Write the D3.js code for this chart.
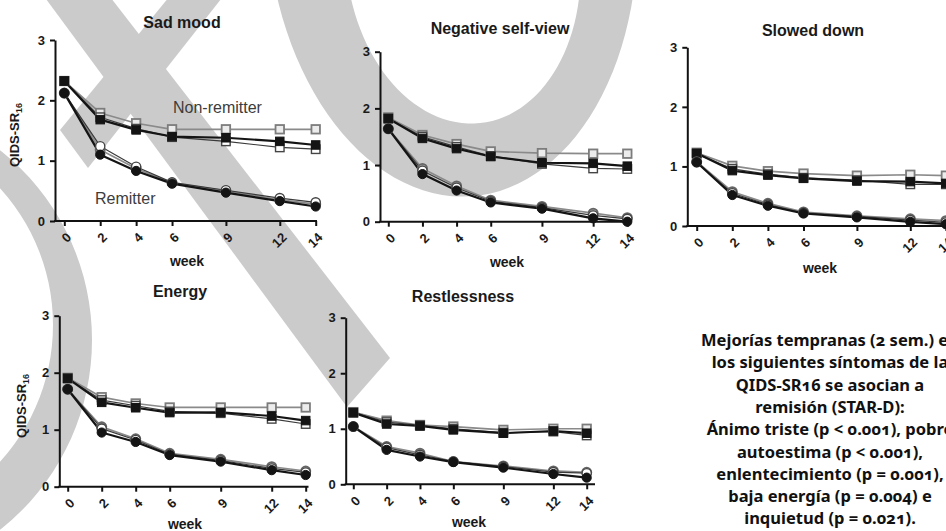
<!DOCTYPE html>
<html>
<head>
<meta charset="utf-8">
<script src="https://cdn.jsdelivr.net/npm/d3@7"></script>
<style>
  html, body { margin: 0; padding: 0; background: #ffffff; }
  svg { display: block; }
</style>
</head>
<body>
<svg id="chart" width="946" height="531"></svg>
<script>
// ---- Data -------------------------------------------------------------
const weeks = [0, 2, 4, 6, 9, 12, 14];
const yTickValues = [0, 1, 2, 3];
const panelTitles = ["Sad mood", "Negative self-view", "Slowed down", "Energy", "Restlessness"];

// Sad mood
const sadNonRemFilled = [2.32, 1.68, 1.51, 1.40, 1.38, 1.32, 1.26];
const sadNonRemGrey   = [2.32, 1.79, 1.62, 1.52, 1.52, 1.52, 1.52];
const sadNonRemOpen   = [2.32, 1.72, 1.53, 1.39, 1.32, 1.22, 1.19];
const sadRemFilled    = [2.12, 1.10, 0.83, 0.62, 0.47, 0.33, 0.24];
const sadRemGrey      = [2.12, 1.18, 0.87, 0.63, 0.50, 0.35, 0.28];
const sadRemOpen      = [2.12, 1.24, 0.90, 0.64, 0.51, 0.38, 0.31];

// Negative self-view
const negNonRemFilled = [1.82, 1.47, 1.29, 1.15, 1.04, 1.03, 0.98];
const negNonRemGrey   = [1.84, 1.53, 1.37, 1.24, 1.21, 1.20, 1.20];
const negNonRemOpen   = [1.82, 1.50, 1.32, 1.16, 1.02, 0.94, 0.93];
const negRemFilled    = [1.64, 0.84, 0.55, 0.34, 0.23, 0.06, 0.00];
const negRemGrey      = [1.64, 0.94, 0.63, 0.38, 0.27, 0.15, 0.07];
const negRemOpen      = [1.64, 0.90, 0.60, 0.36, 0.25, 0.11, 0.05];

// Slowed down
const slowNonRemFilled = [1.22, 0.93, 0.855, 0.80, 0.755, 0.745, 0.715];
const slowNonRemGrey   = [1.23, 1.01, 0.92, 0.88, 0.845, 0.86, 0.845];
const slowNonRemOpen   = [1.21, 0.96, 0.87, 0.81, 0.77, 0.70, 0.70];
const slowRemFilled    = [1.07, 0.52, 0.34, 0.21, 0.145, 0.07, 0.03];
const slowRemGrey      = [1.08, 0.575, 0.38, 0.235, 0.17, 0.12, 0.09];
const slowRemOpen      = [1.07, 0.55, 0.36, 0.22, 0.16, 0.10, 0.06];

// Energy
const energyNonRemFilled = [1.90, 1.48, 1.385, 1.30, 1.305, 1.24, 1.16];
const energyNonRemGrey   = [1.91, 1.57, 1.46, 1.39, 1.39, 1.39, 1.39];
const energyNonRemOpen   = [1.90, 1.52, 1.42, 1.32, 1.29, 1.19, 1.10];
const energyRemFilled    = [1.71, 0.95, 0.785, 0.555, 0.44, 0.29, 0.205];
const energyRemGrey      = [1.71, 1.05, 0.84, 0.585, 0.48, 0.35, 0.275];
const energyRemOpen      = [1.71, 1.02, 0.82, 0.57, 0.46, 0.32, 0.25];

// Restlessness
const restNonRemFilled = [1.29, 1.086, 1.05, 0.98, 0.92, 0.96, 0.92];
const restNonRemGrey   = [1.30, 1.146, 1.068, 1.04, 0.98, 1.00, 1.00];
const restNonRemOpen   = [1.29, 1.12, 1.06, 1.00, 0.93, 0.95, 0.88];
const restRemFilled    = [1.04, 0.62, 0.50, 0.40, 0.30, 0.185, 0.12];
const restRemGrey      = [1.04, 0.68, 0.56, 0.41, 0.33, 0.24, 0.215];
const restRemOpen      = [1.04, 0.66, 0.53, 0.41, 0.32, 0.22, 0.20];

const noteLines = [
  "Mejorías tempranas (2 sem.) en",
  "los siguientes síntomas de la",
  "QIDS-SR16 se asocian a",
  "remisión (STAR-D):",
  "Ánimo triste (p < 0.001), pobre",
  "autoestima (p < 0.001),",
  "enlentecimiento (p = 0.001),",
  "baja energía (p = 0.004) e",
  "inquietud (p = 0.021)."
];

// ---- Layout -----------------------------------------------------------
const panelSeries = [
  [sadNonRemGrey, sadNonRemOpen, sadNonRemFilled, sadRemGrey, sadRemOpen, sadRemFilled],
  [negNonRemGrey, negNonRemOpen, negNonRemFilled, negRemGrey, negRemOpen, negRemFilled],
  [slowNonRemGrey, slowNonRemOpen, slowNonRemFilled, slowRemGrey, slowRemOpen, slowRemFilled],
  [energyNonRemGrey, energyNonRemOpen, energyNonRemFilled, energyRemGrey, energyRemOpen, energyRemFilled],
  [restNonRemGrey, restNonRemOpen, restNonRemFilled, restRemGrey, restRemOpen, restRemFilled]
];
const seriesKinds = ["grey", "open", "filled", "grey", "open", "filled"];
const seriesShapes = ["square", "square", "square", "circle", "circle", "circle"];

const panelBoxes = [
  { axX: 55,    x0: 64.3,  x14: 315.7, xEnd: 317,   y0: 221,   y3: 40,    tx: 182, ty: 28,    wx: 187, wy: 266,   lx: 14,   ly: 135 },
  { axX: 380,   x0: 388.3, x14: 627.3, xEnd: 631,   y0: 221.7, y3: 51.7,  tx: 500, ty: 34,    wx: 507, wy: 266.5 },
  { axX: 687.3, x0: 696.7, x14: 945.9, xEnd: 952,   y0: 226,   y3: 47.3,  tx: 813, ty: 36,    wx: 820, wy: 273 },
  { axX: 59.3,  x0: 67.7,  x14: 305.7, xEnd: 308.5, y0: 486.7, y3: 315.7, tx: 180, ty: 296.7, wx: 185, wy: 528.5, lx: 21.7, ly: 406 },
  { axX: 345.7, x0: 353.3, x14: 586.7, xEnd: 595,   y0: 484.3, y3: 317.7, tx: 463, ty: 301.7, wx: 469, wy: 527 }
];

const styles = {
  grey:   { line: "#8a8a8a", lw: 1.7, fill: "#ececec", stroke: "#7c7c7c", sw: 1.8 },
  open:   { line: "#3a3a3a", lw: 1.2, fill: "#ffffff", stroke: "#454545", sw: 1.4 },
  filled: { line: "#141414", lw: 2.2, fill: "#141414", stroke: "#141414", sw: 1 }
};
const circleGrey = { fill: "#9c9c9c", stroke: "#666666" };

const FONT = "'Liberation Sans', Arial, Helvetica, sans-serif";
const shade = "#cbcbcb";

const svg = d3.select("#chart");

// ---- Background shading strokes --------------------------------------
const bg = svg.append("g").attr("class", "backdrop");

// descending stroke with a pointed end
bg.append("path")
  .attr("d", d3.line()([[32, -20], [97, -20], [390, 358], [347, 407]]) + "Z")
  .attr("fill", shade);
// rising stroke with a pointed end
bg.append("path")
  .attr("d", d3.line()([[183, -20], [236, -20], [88, 168], [60, 130]]) + "Z")
  .attr("fill", shade);

// closed (optionally rotated) ellipse outline
function ellipsePath(cx, cy, rx, ry, angleDeg) {
  const a = angleDeg * Math.PI / 180;
  const pts = d3.range(0, 361, 3).map(t => {
    const r = t * Math.PI / 180;
    const ex = rx * Math.cos(r), ey = ry * Math.sin(r);
    return [cx + ex * Math.cos(a) - ey * Math.sin(a), cy + ex * Math.sin(a) + ey * Math.cos(a)];
  });
  return d3.line()(pts) + "Z";
}
// crescent (outer ellipse minus inner ellipse)
bg.append("path")
  .attr("d", ellipsePath(452, -80, 185, 277, -4) + ellipsePath(463, -40, 117, 164, -6))
  .attr("fill", shade)
  .attr("fill-rule", "evenodd");
// left ring segment
bg.append("path")
  .attr("d", ellipsePath(-150, 340, 242, 242, 0) + ellipsePath(-150, 325, 203, 203, 0))
  .attr("fill", shade)
  .attr("fill-rule", "evenodd");

// ---- Panels -----------------------------------------------------------
panelBoxes.forEach((b, i) => {
  const g = svg.append("g").attr("class", "panel");
  const x = d3.scaleLinear().domain([0, 14]).range([b.x0, b.x14]);
  const y = d3.scaleLinear().domain([0, 3]).range([b.y0, b.y3]);

  // y axis
  const ya = g.append("g")
    .attr("transform", `translate(${b.axX},0)`)
    .call(d3.axisLeft(y).tickValues(yTickValues).tickFormat(d3.format("d")).tickSize(5).tickSizeOuter(0).tickPadding(5));
  ya.select(".domain").attr("stroke", "#111").attr("stroke-width", 2);
  ya.selectAll(".tick line").attr("stroke", "#111").attr("stroke-width", 2);
  ya.selectAll(".tick text")
    .attr("font-family", FONT).attr("font-weight", "bold").attr("font-size", 13).attr("fill", "#1a1a1a");

  // x axis
  const xa = g.append("g")
    .attr("transform", `translate(0,${b.y0})`)
    .call(d3.axisBottom(x).tickValues(weeks).tickFormat(d3.format("d")).tickSize(5).tickSizeOuter(0));
  xa.select(".domain").remove();
  xa.append("line")
    .attr("x1", b.axX - 1).attr("x2", b.xEnd)
    .attr("y1", 0).attr("y2", 0)
    .attr("stroke", "#111").attr("stroke-width", 2);
  xa.selectAll(".tick line").attr("stroke", "#111").attr("stroke-width", 2);
  xa.selectAll(".tick text")
    .attr("x", 0).attr("y", 0).attr("dy", "0.35em")
    .attr("transform", "translate(4,14) rotate(-45)")
    .attr("text-anchor", "end")
    .attr("font-family", FONT).attr("font-weight", "bold").attr("font-size", 13).attr("fill", "#1a1a1a");

  // title and axis names
  g.append("text")
    .attr("x", b.tx).attr("y", b.ty)
    .attr("text-anchor", "middle")
    .attr("font-family", FONT).attr("font-weight", "bold").attr("font-size", 16).attr("fill", "#1a1a1a")
    .text(panelTitles[i]);
  g.append("text")
    .attr("x", b.wx).attr("y", b.wy)
    .attr("text-anchor", "middle")
    .attr("font-family", FONT).attr("font-weight", "bold").attr("font-size", 14).attr("fill", "#1a1a1a")
    .text("week");
  if (b.lx !== undefined) {
    const t = g.append("text")
      .attr("transform", `translate(${b.lx},${b.ly}) rotate(-90)`)
      .attr("text-anchor", "middle")
      .attr("dy", "0.35em")
      .attr("font-family", FONT).attr("font-weight", "bold").attr("font-size", 13).attr("fill", "#1a1a1a");
    t.append("tspan").text("QIDS-SR");
    t.append("tspan").attr("font-size", 9).attr("dy", 3).text("16");
  }

  // series lines, then markers on top
  const line = d3.line().x((d, k) => x(weeks[k])).y(d => y(d));
  panelSeries[i].forEach((vals, s) => {
    const st = styles[seriesKinds[s]];
    g.append("path")
      .attr("d", line(vals))
      .attr("fill", "none")
      .attr("stroke", st.line)
      .attr("stroke-width", st.lw)
      .attr("stroke-linejoin", "round");
  });
  panelSeries[i].forEach((vals, s) => {
    const kind = seriesKinds[s];
    const st = styles[kind];
    const mg = g.append("g");
    if (seriesShapes[s] === "square") {
      const sz = 8.5;
      mg.selectAll("rect").data(vals).join("rect")
        .attr("x", (d, k) => x(weeks[k]) - sz / 2)
        .attr("y", d => y(d) - sz / 2)
        .attr("width", sz).attr("height", sz)
        .attr("fill", st.fill).attr("stroke", st.stroke).attr("stroke-width", st.sw);
    } else {
      const isGrey = kind === "grey";
      mg.selectAll("circle").data(vals).join("circle")
        .attr("cx", (d, k) => x(weeks[k]))
        .attr("cy", d => y(d))
        .attr("r", 4.6)
        .attr("fill", isGrey ? circleGrey.fill : st.fill)
        .attr("stroke", isGrey ? circleGrey.stroke : st.stroke)
        .attr("stroke-width", st.sw);
    }
  });
});

// group labels in the first panel
svg.append("text").attr("x", 173).attr("y", 113)
  .attr("font-family", FONT).attr("font-size", 16).attr("fill", "#3c3c3c")
  .text("Non-remitter");
svg.append("text").attr("x", 95).attr("y", 204)
  .attr("font-family", FONT).attr("font-size", 16).attr("fill", "#3c3c3c")
  .text("Remitter");

// ---- Note ------------------------------------------------------------
const note = svg.append("text")
  .attr("text-anchor", "middle")
  .attr("font-family", "'Noto Sans', 'Open Sans', sans-serif")
  .attr("font-weight", "bold")
  .attr("font-size", 16.5)
  .attr("fill", "#111")
  .style("font-variant-numeric", "oldstyle-nums")
  .style("font-feature-settings", "'onum' 1");
note.selectAll("tspan").data(noteLines).join("tspan")
  .attr("x", 830)
  .attr("y", (d, k) => 346 + k * 22.3)
  .text(d => d);
</script>
</body>
</html>
